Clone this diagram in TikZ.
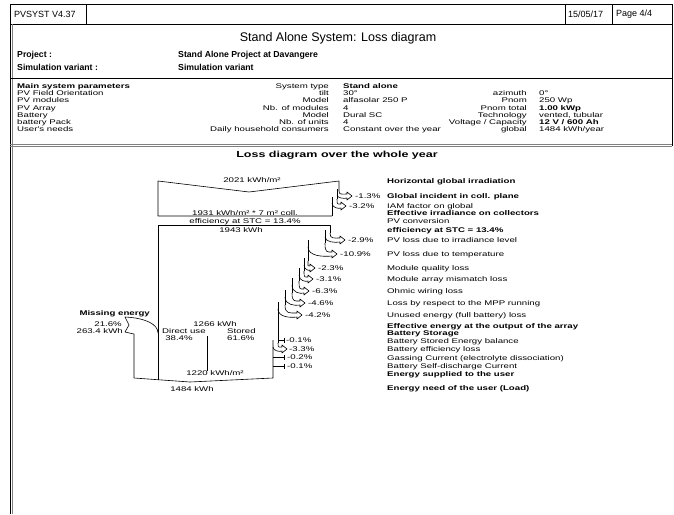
\documentclass[tikz,border=0pt]{standalone}
\usepackage{fontspec}
\setmainfont{Liberation Sans}
\newfontfamily\widefont{Liberation Sans}[FakeStretch=1.42]
\usetikzlibrary{positioning}

\tikzset{
  txt/.style={font=\widefont\fontsize{6.8}{7}\selectfont, inner sep=0pt, anchor=base west},
  btxt/.style={txt, font=\widefont\bfseries\fontsize{6.8}{7}\selectfont},
  rtxt/.style={txt, anchor=base east},
  ctxt/.style={txt, anchor=base},
  pct/.style={txt, anchor=west},
  head/.style={font=\fontsize{9}{10}\selectfont, inner sep=0pt, anchor=west},
  flow/.style={line width=0.6pt, line join=round},
}

\begin{document}
\begin{tikzpicture}[x=1pt,y=-1pt]
  \useasboundingbox (0,0) rectangle (674,514);
  \fill[white] (0,0) rectangle (674,514);
  \def\lossarrow#1#2#3#4#5{% edge, new edge, branch y, tip x, tip y
    \draw[flow] (#1,#3) .. controls (#1,{#5-1}) and ({(#1+#4)/2-4},{#5-2}) .. ({#4-5},{#5-2})
      -- ({#4-5},{#5-4}) -- (#4,#5) -- ({#4-5},{#5+4}) -- ({#4-5},{#5+2})
      .. controls ({(#2+#4)/2},{#5+3}) and (#2,{#5+2}) .. (#2,{#3+4});}
  \def\tickloss#1#2#3{% edge, tick x, y
    \draw[flow] (#1,#3) -- (#2,#3) (#2,{#3-2.5}) -- (#2,{#3+2.5});}

  % page frame
  \draw[line width=0.6pt] (10,4) rectangle (672,24);
  \draw[line width=0.6pt] (86,4) -- (86,24) (565,4) -- (565,24) (612,4) -- (612,24);
  \draw[line width=0.8pt] (10,24) -- (10,514);
  \draw[gray, line width=0.6pt] (12,24) -- (12,514);
  \draw[line width=0.6pt] (672,24) -- (672,146);
  \draw[line width=0.6pt] (10,78) -- (672,78);
  \draw[gray, line width=0.6pt] (10,144) -- (672,144) (10,146) -- (672,146);

  \node[head] (version) at (14,14) {PVSYST V4.37};
  \node[head] (date) at (568,14) {15/05/17};
  \node[head] (page) at (616,14) {Page 4/4};
  \node[font=\fontsize{12.5}{14}\selectfont, inner sep=0pt] (title) at (338,38) {Stand Alone System: Loss diagram};
  \node[head, font=\bfseries\fontsize{8.7}{10}\selectfont] (prj) at (17,55) {Project :};
  \node[head, font=\bfseries\fontsize{8.7}{10}\selectfont] (prjname) at (178,55) {Stand Alone Project at Davangere};
  \node[head, font=\bfseries\fontsize{8.7}{10}\selectfont] (var) at (17,67) {Simulation variant :};
  \node[head, font=\bfseries\fontsize{8.7}{10}\selectfont] (varname) at (178,67) {Simulation variant};

  % system parameters
  \node[btxt] (p0) at (17,88.5) {Main system parameters};
  \node[txt] (p1) at (17,95.7) {PV Field Orientation};
  \node[txt] (p2) at (17,102.9) {PV modules};
  \node[txt] (p3) at (17,110.1) {PV Array};
  \node[txt] (p4) at (17,117.3) {Battery};
  \node[txt] (p5) at (17,124.5) {battery Pack};
  \node[txt] (p6) at (17,131.7) {User's needs};
  \node[rtxt] (k0) at (329,88.5) {System type};
  \node[rtxt] (k1) at (329,95.7) {tilt};
  \node[rtxt] (k2) at (329,102.9) {Model};
  \node[rtxt] (k3) at (329,110.1) {Nb. of modules};
  \node[rtxt] (k4) at (329,117.3) {Model};
  \node[rtxt] (k5) at (329,124.5) {Nb. of units};
  \node[rtxt] (k6) at (329,131.7) {Daily household consumers};
  \node[btxt] (v0) at (343,88.5) {Stand alone};
  \node[txt] (v1) at (343,95.7) {30°};
  \node[txt] (v2) at (343,102.9) {alfasolar 250 P};
  \node[txt] (v3) at (343,110.1) {4};
  \node[txt] (v4) at (343,117.3) {Dural SC};
  \node[txt] (v5) at (343,124.5) {4};
  \node[txt] (v6) at (343,131.7) {Constant over the year};
  \node[rtxt] (q1) at (527,95.7) {azimuth};
  \node[rtxt] (q2) at (527,102.9) {Pnom};
  \node[rtxt] (q3) at (527,110.1) {Pnom total};
  \node[rtxt] (q4) at (527,117.3) {Technology};
  \node[rtxt] (q5) at (527,124.5) {Voltage / Capacity};
  \node[rtxt] (q6) at (527,131.7) {global};
  \node[txt] (w1) at (539,95.7) {0°};
  \node[txt] (w2) at (539,102.9) {250 Wp};
  \node[btxt] (w3) at (539,110.1) {1.00 kWp};
  \node[txt] (w4) at (539,117.3) {vented, tubular};
  \node[btxt] (w5) at (539,124.5) {12 V / 600 Ah};
  \node[txt] (w6) at (539,131.7) {1484 kWh/year};

  \node[btxt, anchor=base, font=\widefont\bfseries\fontsize{8.8}{10}\selectfont] (dtitle) at (337,157) {Loss diagram over the whole year};

  % irradiation box
  \draw[flow] (332,216) -- (158,216) -- (158,181) -- (249,192) -- (339,181) -- (339,191);
  \lossarrow{339}{337}{191}{352}{196}
  \draw[flow] (337,189) -- (337,199);
  \lossarrow{337}{332}{199}{346}{206}
  \draw[flow] (332,197) -- (332,216);

  % array energy
  \draw[flow] (158,380) -- (158,225) -- (330,225) -- (330,233);
  \lossarrow{330}{325}{233}{345}{240}
  \draw[flow] (325,230) -- (325,243);
  \lossarrow{325}{308}{243}{337}{254}
  \draw[flow] (308,240) -- (308,261);
  \lossarrow{308}{304}{261}{315}{268}
  \draw[flow] (304,258) -- (304,271);
  \lossarrow{304}{299}{271}{313}{279}
  \draw[flow] (299,268) -- (299,281);
  \lossarrow{299}{292}{281}{309}{291}
  \draw[flow] (292,278) -- (292,293);
  \lossarrow{292}{285}{293}{305}{303}
  \draw[flow] (285,290) -- (285,305);
  \lossarrow{285}{278}{305}{302}{315}
  \draw[flow] (278,302) -- (278,343);
  \tickloss{278}{284}{340}
  \lossarrow{278}{273}{343}{287}{349}
  \draw[flow] (273,340) -- (273,378) -- (190,382) -- (134,378) -- (134,334) -- (125,332)
    -- (129,325) -- (125,317) .. controls (145,318) and (158,324) .. (158,333);
  \tickloss{273}{284}{357}
  \tickloss{273}{284}{366}
  \draw[flow] (207,336) -- (207,371);

  % flow values
  \node[ctxt] (hgi) at (252,182.5) {2021 kWh/m²};
  \node[ctxt] (coll) at (245,215.5) {1931 kWh/m² * 7 m² coll.};
  \node[ctxt] (eff) at (245,223.5) {efficiency at STC = 13.4\%};
  \node[ctxt] (arr) at (241,232.5) {1943 kWh};
  \node[btxt, anchor=base east] (miss) at (150,315.5) {Missing energy};
  \node[rtxt] (missp) at (122,326.5) {21.6\%};
  \node[rtxt] (misse) at (123,333.5) {263.4 kWh};
  \node[ctxt] (bat) at (215,326.5) {1266 kWh};
  \node[txt] (direct) at (162,333.5) {Direct use};
  \node[ctxt] (directp) at (179,340.5) {38.4\%};
  \node[txt] (stored) at (227,333.5) {Stored};
  \node[txt] (storedp) at (227,340.5) {61.6\%};
  \node[ctxt] (supp) at (215,375.5) {1220 kWh/m²};
  \node[ctxt] (load) at (192,391.5) {1484 kWh};

  % loss percentages
  \node[pct] (l1) at (355,196) {-1.3\%};
  \node[pct] (l2) at (349,206) {-3.2\%};
  \node[pct] (l3) at (348,240) {-2.9\%};
  \node[pct] (l4) at (340,254) {-10.9\%};
  \node[pct] (l5) at (318,268) {-2.3\%};
  \node[pct] (l6) at (316,279) {-3.1\%};
  \node[pct] (l7) at (312,291) {-6.3\%};
  \node[pct] (l8) at (308,303) {-4.6\%};
  \node[pct] (l9) at (305,315) {-4.2\%};
  \node[pct] (l10) at (286,340) {-0.1\%};
  \node[pct] (l11) at (289,349) {-3.3\%};
  \node[pct] (l12) at (287,357) {-0.2\%};
  \node[pct] (l13) at (287,366) {-0.1\%};

  % step labels
  \node[btxt] (s1) at (387,183.5) {Horizontal global irradiation};
  \node[btxt] (s2) at (387,198.5) {Global incident in coll. plane};
  \node[txt] (s3) at (387,208.5) {IAM factor on global};
  \node[btxt] (s4) at (387,215.5) {Effective irradiance on collectors};
  \node[txt] (s5) at (387,223.5) {PV conversion};
  \node[btxt] (s6) at (387,232.5) {efficiency at STC = 13.4\%};
  \node[txt] (s7) at (387,242.5) {PV loss due to irradiance level};
  \node[txt] (s8) at (387,256.5) {PV loss due to temperature};
  \node[txt] (s9) at (387,270.5) {Module quality loss};
  \node[txt] (s10) at (387,281.5) {Module array mismatch loss};
  \node[txt] (s11) at (387,293) {Ohmic wiring loss};
  \node[txt] (s12) at (387,305) {Loss by respect to the MPP running};
  \node[txt] (s13) at (387,317) {Unused energy (full battery) loss};
  \node[btxt] (s14) at (387,328) {Effective energy at the output of the array};
  \node[btxt] (s15) at (387,335) {Battery Storage};
  \node[txt] (s16) at (387,343) {Battery Stored Energy balance};
  \node[txt] (s17) at (387,351.5) {Battery efficiency loss};
  \node[txt] (s18) at (387,360) {Gassing Current (electrolyte dissociation)};
  \node[txt] (s19) at (387,368.5) {Battery Self-discharge Current};
  \node[btxt] (s20) at (387,376) {Energy supplied to the user};
  \node[btxt] (s21) at (387,390.5) {Energy need of the user (Load)};
\end{tikzpicture}
\end{document}
